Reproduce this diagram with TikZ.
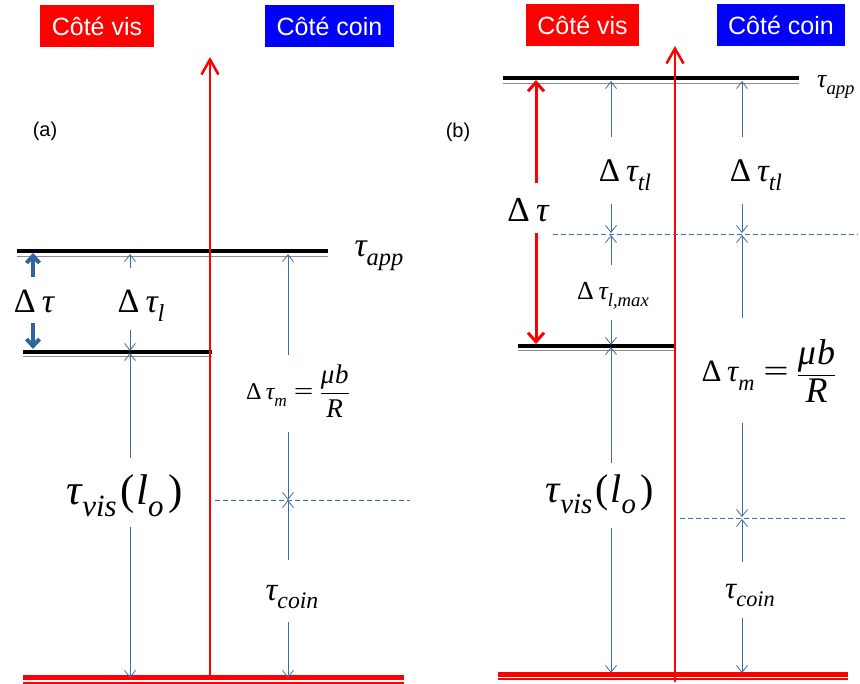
\documentclass[tikz,border=0pt]{standalone}
\usepackage{amsmath}
\usepackage{fontspec}
\setmainfont{Liberation Serif}
\newfontfamily\arialf{Liberation Sans}
\usetikzlibrary{arrows.meta}
\definecolor{thinblue}{RGB}{62,110,168}
\definecolor{thickblue}{RGB}{46,100,160}
\newcommand{\Sbs}[1]{\raisebox{-0.26em}{\scalebox{0.72}{\itshape #1}}}
\newcommand{\Tau}{{\itshape τ}}
\newcommand{\Dlt}{Δ\hspace{0.18em}}
\newcommand{\Eq}{\scalebox{1.45}[1]{=}}
\newcommand{\Frac}[3]{{\fontsize{#1}{#1}\selectfont$\dfrac{\text{\itshape #2}}{\text{\itshape #3}}$}}
\tikzset{
  hdr/.style={minimum height=42pt, inner sep=0pt, text=white, font=\arialf\fontsize{25}{28}\selectfont},
  lbl/.style={inner sep=0pt, anchor=base, font=\fontsize{#1}{#1}\selectfont},
  plab/.style={inner sep=0pt, font=\arialf\fontsize{20}{22}\selectfont},
  dim/.style={draw=thinblue, line width=0.8pt, -{Straight Barb[length=7pt,width=11pt]}},
  dashl/.style={draw=thinblue, line width=0.8pt, dash pattern=on 5pt off 3pt},
  bigblue/.style={draw=thickblue, line width=4pt, -{Straight Barb[length=7pt,width=13pt]}},
  redarrow/.style={draw=red, line width=3pt, -{Straight Barb[length=9pt,width=16pt]}},
  axis/.style={draw=red, line width=2.5pt, -{Straight Barb[length=15pt,width=17pt]}},
  level/.style={draw=black, line width=4pt},
  levelshadow/.style={draw=black!45, line width=0.8pt},
  ground/.style={draw=red, line width=5pt},
  groundthin/.style={draw=red, line width=1.3pt},
}
\begin{document}
\begin{tikzpicture}[x=1pt,y=-1pt]
\useasboundingbox (0,0) rectangle (860,684);
\fill[white] (0,0) rectangle (860,684);

% ---------------- panel (a) ----------------
\node[hdr, fill=red, minimum width=114pt] (visA) at (97,26) {Côté vis};
\node[hdr, fill=blue, minimum width=129pt] (coinA) at (329.5,26) {Côté coin};
\node[plab] (labA) at (45,131) {(a)};

% levels
\coordinate (appA1) at (17,251); \coordinate (appA2) at (328,251);
\coordinate (appA1s) at (17,256); \coordinate (appA2s) at (328,256);
\draw[levelshadow] (appA1s) -- (appA2s);
\draw[level] (appA1) -- (appA2);
\coordinate (lowA1) at (23,352); \coordinate (lowA2) at (212,352);
\coordinate (lowA1s) at (23,356); \coordinate (lowA2s) at (212,356);
\draw[levelshadow] (lowA1s) -- (lowA2s);
\draw[level] (lowA1) -- (lowA2);
\coordinate (grA1) at (23,677); \coordinate (grA2) at (404,677);
\coordinate (grA1s) at (23,683); \coordinate (grA2s) at (404,683);
\draw[ground] (grA1) -- (grA2);
\draw[groundthin] (grA1s) -- (grA2s);

% axis
\coordinate (axA0) at (210,679); \coordinate (axA1) at (210,57);
\draw[axis] (axA0) -- (axA1);

% labels
\node[lbl=34] (tappA) at (379,257) {\Tau\Sbs{app}};
\node[lbl=34] (dtA) at (34,313) {\Dlt\Tau};
\node[lbl=34] (dtlA) at (141,313) {\Dlt\Tau\Sbs{l}};
\node[lbl=24] (dtmA) at (298,400) {\Dlt\Tau\Sbs{m}\hspace{7pt}\Eq\hspace{6pt}\Frac{27}{μ\hspace{0.03em}b}{R}};
\node[lbl=43] (tvisA) at (125,505) {\Tau\Sbs{vis}\hspace{0.08em}(\hspace{0.04em}{\itshape l}\Sbs{o}\hspace{0.12em})};
\node[lbl=33] (tcoinA) at (292,600) {\Tau\Sbs{coin}};

% delta tau thick arrows
\coordinate (dtA1) at (33,277); \coordinate (dtA1e) at (33,253);
\coordinate (dtA2) at (33,323); \coordinate (dtA2e) at (33,349);
\draw[bigblue] (dtA1) -- (dtA1e);
\draw[bigblue] (dtA2) -- (dtA2e);

% delta tau_l
\coordinate (dlA1) at (130,268); \coordinate (dlA1e) at (130,254);
\coordinate (dlA2) at (130,330); \coordinate (dlA2e) at (130,351);
\draw[dim] (dlA1) -- (dlA1e);
\draw[dim] (dlA2) -- (dlA2e);
% tau_vis
\coordinate (tvA1) at (130,458); \coordinate (tvA1e) at (130,353);
\coordinate (tvA2) at (130,527); \coordinate (tvA2e) at (130,678);
\draw[dim] (tvA1) -- (tvA1e);
\draw[dim] (tvA2) -- (tvA2e);
% delta tau_m
\coordinate (dmA1) at (288,355); \coordinate (dmA1e) at (288,254);
\coordinate (dmA2) at (288,432); \coordinate (dmA2e) at (288,500);
\draw[dim] (dmA1) -- (dmA1e);
\draw[dim] (dmA2) -- (dmA2e);
% tau_coin
\coordinate (tcA1) at (288,560); \coordinate (tcA1e) at (288,500);
\coordinate (tcA2) at (288,622); \coordinate (tcA2e) at (288,678);
\draw[dim] (tcA1) -- (tcA1e);
\draw[dim] (tcA2) -- (tcA2e);
% dashed
\coordinate (dsA1) at (215,500); \coordinate (dsA2) at (410,500);
\draw[dashl] (dsA1) -- (dsA2);

% ---------------- panel (b) ----------------
\node[hdr, fill=red, minimum width=113pt] (visB) at (582.5,25) {Côté vis};
\node[hdr, fill=blue, minimum width=128pt] (coinB) at (781,25) {Côté coin};
\node[plab] (labB) at (458,132) {(b)};

\coordinate (appB1) at (503,78); \coordinate (appB2) at (799,78);
\coordinate (appB1s) at (503,83); \coordinate (appB2s) at (799,83);
\draw[levelshadow] (appB1s) -- (appB2s);
\draw[level] (appB1) -- (appB2);
\coordinate (lowB1) at (518,346); \coordinate (lowB2) at (675,346);
\coordinate (lowB1s) at (518,350); \coordinate (lowB2s) at (675,350);
\draw[levelshadow] (lowB1s) -- (lowB2s);
\draw[level] (lowB1) -- (lowB2);
\coordinate (grB1) at (498,674); \coordinate (grB2) at (848,674);
\coordinate (grB1s) at (498,679); \coordinate (grB2s) at (848,679);
\draw[ground] (grB1) -- (grB2);
\draw[groundthin] (grB1s) -- (grB2s);

\coordinate (axB0) at (675,682); \coordinate (axB1) at (675,46);
\draw[axis] (axB0) -- (axB1);

% labels
\node[lbl=26, anchor=base west] (tappB) at (817,88) {\Tau\Sbs{app}};
\node[lbl=35] (dtB) at (528,222) {\Dlt\Tau};
\node[lbl=33] (dtl1B) at (625,182) {\Dlt\Tau\Sbs{tl}};
\node[lbl=33] (dtl2B) at (756,182) {\Dlt\Tau\Sbs{tl}};
\node[lbl=26] (dlmB) at (613,300) {\Dlt\Tau\Sbs{l,max}};
\node[lbl=31] (dtmB) at (769,382) {\Dlt\Tau\Sbs{m}\hspace{9pt}\Eq\hspace{8pt}\Frac{36}{μ\hspace{0.03em}b}{R}};
\node[lbl=40] (tvisB) at (600,503) {\Tau\Sbs{vis}\hspace{0.08em}(\hspace{0.04em}{\itshape l}\Sbs{o}\hspace{0.12em})};
\node[lbl=31] (tcoinB) at (750,598) {\Tau\Sbs{coin}};

% red delta tau
\coordinate (rB1) at (536,183); \coordinate (rB1e) at (536,80);
\coordinate (rB2) at (536,233); \coordinate (rB2e) at (536,344);
\draw[redarrow] (rB1) -- (rB1e);
\draw[redarrow] (rB2) -- (rB2e);

% column 1
\coordinate (c1a) at (611,137); \coordinate (c1ae) at (611,81);
\coordinate (c1b) at (611,204); \coordinate (c1be) at (611,233);
\coordinate (c1c) at (611,265); \coordinate (c1ce) at (611,235);
\coordinate (c1d) at (611,320); \coordinate (c1de) at (611,345);
\coordinate (c1f) at (611,463); \coordinate (c1fe) at (611,347);
\coordinate (c1g) at (611,528); \coordinate (c1ge) at (611,673);
\draw[dim] (c1a) -- (c1ae);
\draw[dim] (c1b) -- (c1be);
\draw[dim] (c1c) -- (c1ce);
\draw[dim] (c1d) -- (c1de);
\draw[dim] (c1f) -- (c1fe);
\draw[dim] (c1g) -- (c1ge);

% column 2
\coordinate (c2a) at (742,137); \coordinate (c2ae) at (742,81);
\coordinate (c2b) at (742,204); \coordinate (c2be) at (742,233);
\coordinate (c2c) at (742,318); \coordinate (c2ce) at (742,235);
\coordinate (c2d) at (742,423); \coordinate (c2de) at (742,517);
\coordinate (c2f) at (742,562); \coordinate (c2fe) at (742,519);
\coordinate (c2g) at (742,618); \coordinate (c2ge) at (742,673);
\draw[dim] (c2a) -- (c2ae);
\draw[dim] (c2b) -- (c2be);
\draw[dim] (c2c) -- (c2ce);
\draw[dim] (c2d) -- (c2de);
\draw[dim] (c2f) -- (c2fe);
\draw[dim] (c2g) -- (c2ge);

% dashed
\coordinate (dsB1) at (553,234); \coordinate (dsB2) at (858,234);
\draw[dashl] (dsB1) -- (dsB2);
\coordinate (dsB3) at (680,518); \coordinate (dsB4) at (847,518);
\draw[dashl] (dsB3) -- (dsB4);
\end{tikzpicture}
\end{document}
